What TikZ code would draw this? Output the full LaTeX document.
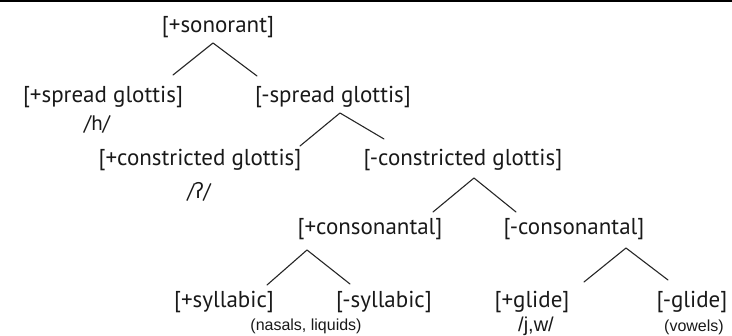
\documentclass[tikz,border=0pt]{standalone}
\usepackage{fontspec}
\setmainfont{PT Sans}
\newfontfamily\smallfont{Liberation Sans}
\newfontfamily\ipafont{Noto Sans}

\tikzset{
	feat/.style={font=\fontsize{23}{27}\selectfont, inner sep=0pt, text=black!90},
	seg/.style={font=\fontsize{21}{25}\selectfont, inner sep=0pt, text=black!90},
	note/.style={font=\smallfont\fontsize{16}{19}\selectfont, inner sep=0pt, text=black!90},
	branch/.style={line width=1.1pt, black!85}
}

\begin{document}
\begin{tikzpicture}[line cap=round,line join=round,x=1pt,y=-1pt]
	\useasboundingbox (0,0) rectangle (732,336);
	\draw [line width=1.6pt] (0,0.8) -- (732,0.8);
	% features
	\node[feat] (son) at (218,27) {[+sonorant]};
	\node[feat] (psg) at (103,97) {[+spread glottis]};
	\node[feat] (msg) at (333,97) {[-spread glottis]};
	\node[feat] (pcg) at (200,160) {[+constricted glottis]};
	\node[feat] (mcg) at (463,160) {[-constricted glottis]};
	\node[feat] (pcons) at (370,229) {[+consonantal]};
	\node[feat] (mcons) at (574,229) {[-consonantal]};
	\node[feat] (psyl) at (224,302) {[+syllabic]};
	\node[feat] (msyl) at (384,302) {[-syllabic]};
	\node[feat] (pgl) at (532,302) {[+glide]};
	\node[feat] (mgl) at (692,302) {[-glide]};
	% segments
	\node[seg] (h) at (97,124) {/h/};
	\node[seg] (gs) at (199,192) {/{\ipafont ʔ}/};
	\node[note, font=\smallfont\fontsize{20}{23}\selectfont] (jw) at (536,326) {/j,w/};
	\node[note] (nl) at (306,326) {(nasals, liquids)};
	\node[note] (vw) at (694,327) {(vowels)};
	% branches
	\coordinate (a1) at (213,43);  \coordinate (l1) at (173,75);  \coordinate (r1) at (257,76);
	\coordinate (a2) at (340,113); \coordinate (l2) at (300,146); \coordinate (r2) at (384,139);
	\coordinate (a3) at (474,178); \coordinate (l3) at (433,212); \coordinate (r3) at (516,212);
	\coordinate (a4) at (307,250); \coordinate (l4) at (267,285); \coordinate (r4) at (350,284);
	\coordinate (a5) at (626,248); \coordinate (l5) at (584,282); \coordinate (r5) at (668,280);
	\foreach \i in {1,...,5}
		\draw [branch] (l\i) -- (a\i) -- (r\i);
\end{tikzpicture}
\end{document}
